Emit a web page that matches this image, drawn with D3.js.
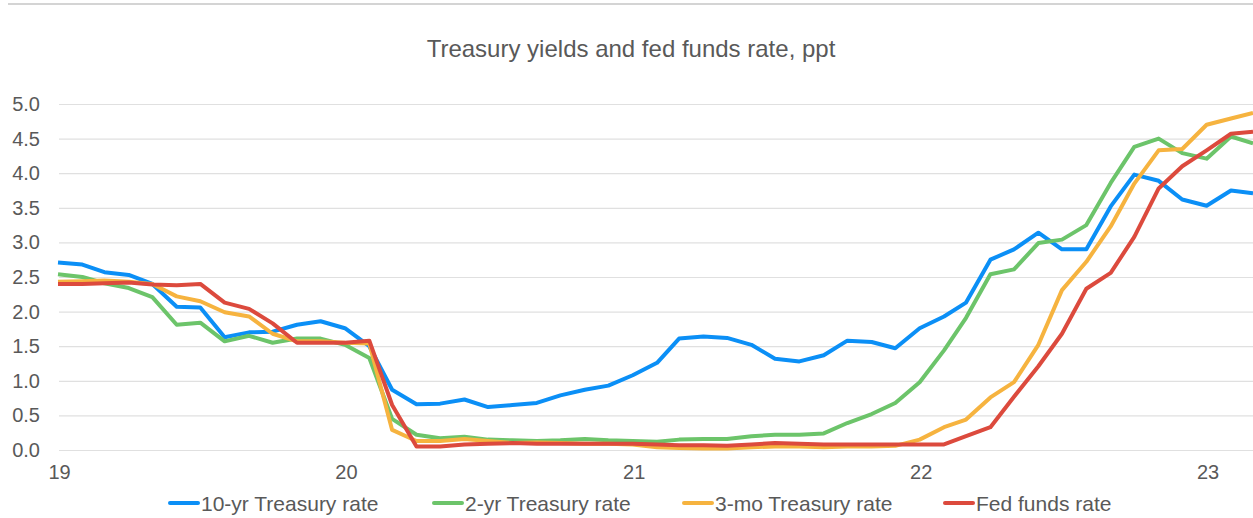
<!DOCTYPE html>
<html>
<head>
<meta charset="utf-8">
<script src="https://cdn.jsdelivr.net/npm/d3@7"></script>
<style>
  body { margin: 0; background: #fff; }
  svg { display: block; font-family: 'Liberation Sans', Arial, sans-serif; }
</style>
</head>
<body>
<div id="chart"></div>
<script>
// ── Data (monthly, Jan 2019 – Mar 2023) ─────────────────────
const months = d3.timeMonth.range(new Date(2019, 0, 1), new Date(2023, 3, 1));

const tenYr = [
  2.71, 2.68, 2.57, 2.53, 2.40, 2.07, 2.06, 1.63, 1.70, 1.71, 1.81, 1.86,
  1.76, 1.50, 0.87, 0.66, 0.67, 0.73, 0.62, 0.65, 0.68, 0.79, 0.87, 0.93,
  1.08, 1.26, 1.61, 1.64, 1.62, 1.52, 1.32, 1.28, 1.37, 1.58, 1.56, 1.47,
  1.76, 1.93, 2.13, 2.75, 2.90, 3.14, 2.90, 2.90, 3.52, 3.98, 3.89, 3.62,
  3.53, 3.75, 3.71
];

const twoYr = [
  2.54, 2.50, 2.41, 2.34, 2.21, 1.81, 1.84, 1.57, 1.65, 1.55, 1.61, 1.61,
  1.52, 1.33, 0.45, 0.22, 0.17, 0.19, 0.15, 0.14, 0.13, 0.14, 0.16, 0.14,
  0.13, 0.12, 0.15, 0.16, 0.16, 0.20, 0.22, 0.22, 0.24, 0.39, 0.52, 0.68,
  0.98, 1.44, 1.91, 2.54, 2.61, 2.99, 3.04, 3.25, 3.86, 4.38, 4.50, 4.29,
  4.21, 4.53, 4.43
];

const threeMo = [
  2.43, 2.44, 2.45, 2.43, 2.40, 2.22, 2.15, 1.99, 1.93, 1.68, 1.57, 1.57,
  1.55, 1.54, 0.29, 0.13, 0.13, 0.16, 0.13, 0.10, 0.11, 0.10, 0.09, 0.09,
  0.08, 0.04, 0.03, 0.02, 0.02, 0.04, 0.05, 0.05, 0.04, 0.05, 0.05, 0.06,
  0.15, 0.33, 0.44, 0.76, 0.98, 1.52, 2.31, 2.72, 3.23, 3.85, 4.33, 4.35,
  4.70, 4.79, 4.87
];

const fedFunds = [
  2.40, 2.40, 2.41, 2.42, 2.39, 2.38, 2.40, 2.13, 2.04, 1.83, 1.55, 1.55,
  1.55, 1.58, 0.65, 0.05, 0.05, 0.08, 0.09, 0.10, 0.09, 0.09, 0.09, 0.09,
  0.09, 0.08, 0.07, 0.07, 0.06, 0.08, 0.10, 0.09, 0.08, 0.08, 0.08, 0.08,
  0.08, 0.08, 0.20, 0.33, 0.77, 1.21, 1.68, 2.33, 2.56, 3.08, 3.78, 4.10,
  4.33, 4.57, 4.60
];

const yTicks = [0, 0.5, 1, 1.5, 2, 2.5, 3, 3.5, 4, 4.5, 5];
const xTicks = [2019, 2020, 2021, 2022, 2023].map(y => new Date(y, 0, 1));

const seriesNames  = ['10-yr Treasury rate', '2-yr Treasury rate', '3-mo Treasury rate', 'Fed funds rate'];
const seriesValues = [tenYr, twoYr, threeMo, fedFunds];
const seriesColors = ['#0b8ff6', '#6cc46a', '#f6b33f', '#dc4a3d'];

// ── Layout ──────────────────────────────────────────────────
const width = 1253, height = 518;
const textColor = '#595959';

const svg = d3.select('#chart')
  .append('svg')
  .attr('width', width)
  .attr('height', height);

// top border
svg.append('line')
  .attr('x1', 8).attr('x2', width)
  .attr('y1', 4).attr('y2', 4)
  .attr('stroke', '#c6c6c6')
  .attr('stroke-width', 1.5);

// ── Scales ──────────────────────────────────────────────────
const x = d3.scaleTime()
  .domain([months[0], months[months.length - 1]])
  .range([58, 1253]);

const y = d3.scaleLinear()
  .domain([0, 5])
  .range([450, 104]);

// ── Title ───────────────────────────────────────────────────
svg.append('text')
  .attr('x', 631)
  .attr('y', 57)
  .attr('text-anchor', 'middle')
  .attr('fill', textColor)
  .attr('font-size', '24px')
  .text('Treasury yields and fed funds rate, ppt');

// ── Gridlines + y labels ────────────────────────────────────
const yAxis = svg.append('g')
  .attr('transform', 'translate(59,0)')
  .call(d3.axisLeft(y)
    .tickValues(yTicks)
    .tickSize(-(width - 59))
    .tickPadding(19)
    .tickFormat(d3.format('.1f'))
  );

yAxis.select('.domain').remove();
yAxis.selectAll('.tick line')
  .attr('stroke', '#e0e0e0')
  .attr('stroke-width', 1.2);
yAxis.selectAll('.tick text')
  .attr('fill', textColor)
  .attr('font-size', '20px')
  .attr('font-family', "'Liberation Sans', Arial, sans-serif");

// ── X labels ────────────────────────────────────────────────
const xAxis = svg.append('g')
  .attr('transform', 'translate(1,450)')
  .call(d3.axisBottom(x)
    .tickValues(xTicks)
    .tickSize(0)
    .tickPadding(15)
    .tickFormat(d3.timeFormat('%y'))
  );

xAxis.select('.domain').remove();
xAxis.selectAll('.tick text')
  .attr('fill', textColor)
  .attr('font-size', '20px')
  .attr('font-family', "'Liberation Sans', Arial, sans-serif");

// ── Lines ───────────────────────────────────────────────────
const line = d3.line()
  .x((d, i) => x(months[i]))
  .y(d => y(d));

seriesValues.forEach((vals, i) => {
  svg.append('path')
    .datum(vals)
    .attr('fill', 'none')
    .attr('stroke', seriesColors[i])
    .attr('stroke-width', 4)
    .attr('stroke-linejoin', 'round')
    .attr('d', line);
});

// ── Legend ──────────────────────────────────────────────────
const legendX = [168, 432, 682, 943];

seriesNames.forEach((name, i) => {
  const item = svg.append('g')
    .attr('transform', `translate(${legendX[i]},503)`);

  item.append('line')
    .attr('x1', 2).attr('x2', 30)
    .attr('y1', 0).attr('y2', 0)
    .attr('stroke', seriesColors[i])
    .attr('stroke-width', 4)
    .attr('stroke-linecap', 'round');

  item.append('text')
    .attr('x', 33)
    .attr('y', 8)
    .attr('fill', textColor)
    .attr('font-size', '21px')
    .text(name);
});
</script>
</body>
</html>
